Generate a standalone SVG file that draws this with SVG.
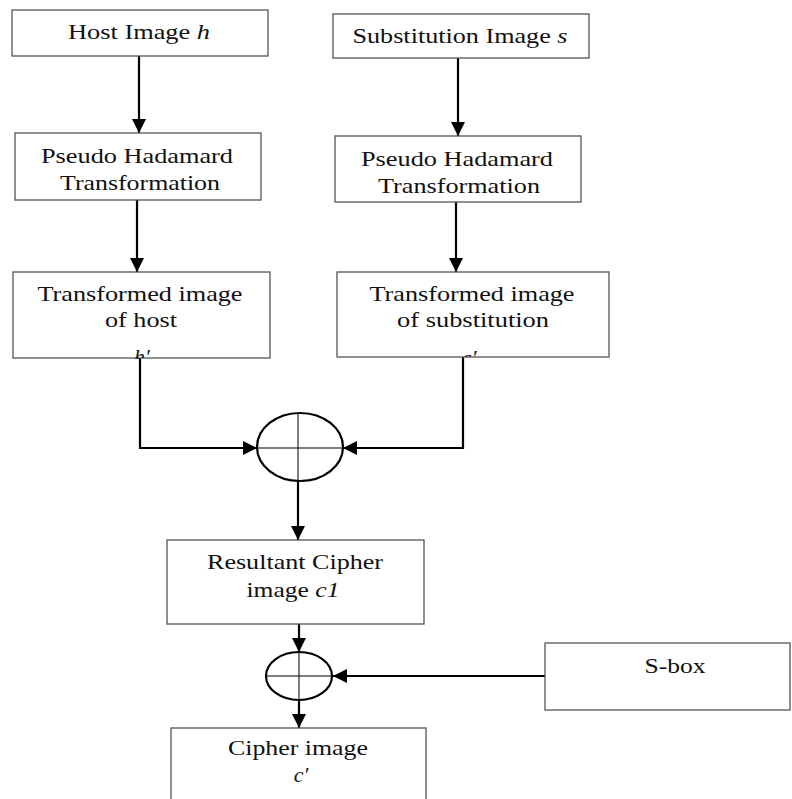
<svg xmlns="http://www.w3.org/2000/svg" width="792" height="799" viewBox="0 0 792 799">
<style>
.box{fill:#fff;stroke:#555;stroke-width:1.3}
.t{font-family:"Liberation Serif","Times New Roman",serif;font-size:22px;fill:#111;text-anchor:middle}
.i{font-style:italic}
.c{fill:none;stroke:#000;stroke-width:2.2}
.x{fill:#fff;stroke:#000;stroke-width:2.2}
.h{stroke:#000;stroke-width:1}
</style>
<defs>
<marker id="ah" markerUnits="userSpaceOnUse" markerWidth="14" markerHeight="14" viewBox="0 0 14 14" refX="14" refY="7" orient="auto">
<path d="M0,0 L14,7 L0,14 Z" fill="#000"/>
</marker>
<clipPath id="cl1"><rect x="13" y="272" width="257" height="86"/></clipPath>
<clipPath id="cl2"><rect x="337" y="272" width="272" height="85"/></clipPath>
</defs>
<g id="connectors">
<line class="c" x1="139" y1="56" x2="139" y2="133" marker-end="url(#ah)"/>
<line class="c" x1="458" y1="58" x2="458" y2="136" marker-end="url(#ah)"/>
<line class="c" x1="137" y1="200" x2="137" y2="272" marker-end="url(#ah)"/>
<line class="c" x1="456" y1="202" x2="456" y2="272" marker-end="url(#ah)"/>
<path class="c" d="M135,358 H140 V448 H257" marker-end="url(#ah)"/>
<path class="c" d="M463,357 V448 H343" marker-end="url(#ah)"/>
<line class="c" x1="298" y1="481" x2="298" y2="540" marker-end="url(#ah)"/>
<line class="c" x1="299" y1="624" x2="299" y2="652" marker-end="url(#ah)"/>
<line class="c" x1="546" y1="676" x2="333" y2="676" marker-end="url(#ah)"/>
<line class="c" x1="299" y1="700" x2="299" y2="728" marker-end="url(#ah)"/>
</g>
<g id="host">
<rect class="box" x="12" y="10" width="256" height="46"/>
<text class="t" x="139" y="39" textLength="142" lengthAdjust="spacingAndGlyphs">Host Image <tspan class="i">h</tspan></text>
</g>
<g id="substitution">
<rect class="box" x="333" y="14" width="256" height="44"/>
<text class="t" x="460" y="43" textLength="215" lengthAdjust="spacingAndGlyphs">Substitution Image <tspan class="i">s</tspan></text>
</g>
<g id="pht-left">
<rect class="box" x="15" y="133" width="246" height="67"/>
<text class="t" x="137" y="163" textLength="192" lengthAdjust="spacingAndGlyphs">Pseudo Hadamard</text>
<text class="t" x="140" y="190" textLength="160" lengthAdjust="spacingAndGlyphs">Transformation</text>
</g>
<g id="pht-right">
<rect class="box" x="335" y="136" width="246" height="66"/>
<text class="t" x="457" y="166" textLength="192" lengthAdjust="spacingAndGlyphs">Pseudo Hadamard</text>
<text class="t" x="459" y="193" textLength="162" lengthAdjust="spacingAndGlyphs">Transformation</text>
</g>
<g id="transformed-host">
<rect class="box" x="13" y="272" width="257" height="86"/>
<text class="t" x="140" y="301" textLength="205" lengthAdjust="spacingAndGlyphs">Transformed image</text>
<text class="t" x="141" y="327" textLength="72" lengthAdjust="spacingAndGlyphs">of host</text>
<text class="t i" x="142" y="364" clip-path="url(#cl1)">h′</text>
</g>
<g id="transformed-sub">
<rect class="box" x="337" y="272" width="272" height="85"/>
<text class="t" x="472" y="301" textLength="205" lengthAdjust="spacingAndGlyphs">Transformed image</text>
<text class="t" x="473" y="327" textLength="152" lengthAdjust="spacingAndGlyphs">of substitution</text>
<text class="t i" x="470" y="365" clip-path="url(#cl2)">s′</text>
</g>
<g id="xor1">
<ellipse class="x" cx="300" cy="447" rx="43" ry="34"/>
<line class="h" x1="257" y1="448" x2="343" y2="448"/>
<line class="h" x1="298" y1="413" x2="298" y2="481"/>
</g>
<g id="resultant">
<rect class="box" x="167" y="540" width="257" height="84"/>
<text class="t" x="295" y="569" textLength="176" lengthAdjust="spacingAndGlyphs">Resultant Cipher</text>
<text class="t" x="293" y="597" textLength="93" lengthAdjust="spacingAndGlyphs">image <tspan class="i">c1</tspan></text>
</g>
<g id="xor2">
<ellipse class="x" cx="299" cy="676" rx="33" ry="24"/>
<line class="h" x1="266" y1="676" x2="332" y2="676"/>
<line class="h" x1="299" y1="652" x2="299" y2="700"/>
</g>
<g id="sbox">
<rect class="box" x="545" y="643" width="245" height="67"/>
<text class="t" x="675" y="673" textLength="61" lengthAdjust="spacingAndGlyphs">S-box</text>
</g>
<g id="cipher">
<rect class="box" x="171" y="728" width="255" height="80"/>
<text class="t" x="298" y="755" textLength="140" lengthAdjust="spacingAndGlyphs">Cipher image</text>
<text class="t i" x="301" y="782">c′</text>
</g>
</svg>
